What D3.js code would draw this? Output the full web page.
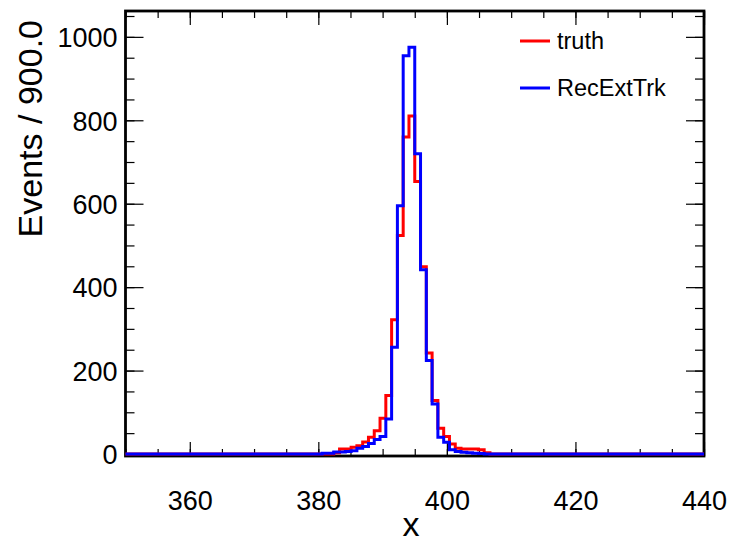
<!DOCTYPE html>
<html>
<head>
<meta charset="utf-8">
<script src="https://cdn.jsdelivr.net/npm/d3@7"></script>
<style>
  html, body { margin: 0; padding: 0; background: #fff; }
  svg { display: block; }
  text { font-family: "Liberation Sans", Arial, Helvetica, sans-serif; fill: #000; }
</style>
</head>
<body>
<svg id="chart" width="735" height="545"></svg>
<script>
// ---- data ----
const xMin = 350, xMax = 440, nBins = 100;   // bin width 0.9
const xTickLabels = [360, 380, 400, 420, 440];
const yTickLabels = [0, 200, 400, 600, 800, 1000];
const seriesNames = ["truth", "RecExtTrk"];
// bin contents (100 bins, index 0 = [350, 350.9))
const truth = [
  0,0,0,0,0,0,0,0,0,0,
  0,0,0,0,0,0,0,0,0,0,
  0,0,0,0,0,0,0,0,0,0,
  0,0,0,0,0,0,3,12,12,16,
  20,29,40,56,86,140,322,524,760,810,
  653,449,242,128,62,42,24,14,12,12,
  12,10,3,0,0,0,0,0,0,0,
  0,0,0,0,0,0,0,0,0,0,
  0,0,0,0,0,0,0,0,0,0,
  0,0,0,0,0,0,0,0,0,0
];
const recExtTrk = [
  0,0,0,0,0,0,0,0,0,0,
  0,0,0,0,0,0,0,0,0,0,
  0,0,0,0,0,0,0,0,0,0,
  0,0,0,0,2,2,5,5,6,8,
  14,18,25,35,42,84,256,595,955,975,
  720,442,224,120,40,28,10,6,4,3,
  2,1,0,0,0,0,0,0,0,0,
  0,0,0,0,0,0,0,0,0,0,
  0,0,0,0,0,0,0,0,0,0,
  0,0,0,0,0,0,0,0,0,0
];
const colors = ["#ff0000", "#0000ff"];

// ---- layout ----
const L = 125.5, R = 704, T = 11, B = 456;
const svg = d3.select("#chart");
const x = d3.scaleLinear().domain([xMin, xMax]).range([L, R]);
const y = d3.scaleLinear().domain([0, 1062]).range([454, T]);
const binW = (xMax - xMin) / nBins;

// axes (ROOT style: inward ticks on all sides)
const xMinor = d3.range(xMin, xMax + 0.01, 5);
const yMinor = d3.range(0, 1062, 50);
function styleAxis(g) {
  g.select(".domain").remove();
  g.selectAll("line").attr("stroke", "#000").attr("stroke-width", 1.2);
}
svg.append("g").attr("transform", `translate(0,${B})`)
  .call(d3.axisBottom(x).tickValues(xMinor).tickSize(-7).tickFormat(""))
  .call(styleAxis);
svg.append("g").attr("transform", `translate(0,${B})`)
  .call(d3.axisBottom(x).tickValues(xTickLabels).tickSize(-14).tickFormat(d3.format("d")))
  .call(styleAxis)
  .call(g => g.selectAll("text").attr("font-size", 27).attr("dy", null).attr("y", 54));
svg.append("g").attr("transform", `translate(0,${T})`)
  .call(d3.axisTop(x).tickValues(xMinor).tickSize(-7).tickFormat(""))
  .call(styleAxis);
svg.append("g").attr("transform", `translate(0,${T})`)
  .call(d3.axisTop(x).tickValues(xTickLabels).tickSize(-14).tickFormat(""))
  .call(styleAxis);
svg.append("g").attr("transform", `translate(${L},0)`)
  .call(d3.axisLeft(y).tickValues(yMinor).tickSize(-9).tickFormat(""))
  .call(styleAxis);
svg.append("g").attr("transform", `translate(${L},0)`)
  .call(d3.axisLeft(y).tickValues(yTickLabels).tickSize(-18).tickFormat(d3.format("d")))
  .call(styleAxis)
  .call(g => g.selectAll("text").attr("font-size", 27).attr("x", -8).attr("dy", "0.36em"));
svg.append("g").attr("transform", `translate(${R},0)`)
  .call(d3.axisRight(y).tickValues(yMinor).tickSize(-9).tickFormat(""))
  .call(styleAxis);
svg.append("g").attr("transform", `translate(${R},0)`)
  .call(d3.axisRight(y).tickValues(yTickLabels).tickSize(-18).tickFormat(""))
  .call(styleAxis);

// frame
svg.append("rect").attr("x", L).attr("y", T).attr("width", R - L).attr("height", B - T)
  .attr("fill", "none").attr("stroke", "#000").attr("stroke-width", 2.8);

// histograms as step lines (drawn on top of the frame)
function stepPoints(vals) {
  const pts = vals.map((v, i) => [xMin + i * binW, v]);
  pts.push([xMax, vals[vals.length - 1]]);
  return pts;
}
const line = d3.line().x(d => x(d[0])).y(d => y(d[1])).curve(d3.curveStepAfter);
const gH = svg.append("g");
[truth, recExtTrk].forEach((vals, i) => {
  gH.append("path").attr("d", line(stepPoints(vals)))
    .attr("fill", "none").attr("stroke", colors[i]).attr("stroke-width", 3)
    .attr("stroke-linejoin", "miter");
});

// titles
svg.append("text").attr("transform", "translate(42,20) rotate(-90)")
  .attr("text-anchor", "end").attr("font-size", 34).text("Events / 900.0");
svg.append("text").attr("x", 411).attr("y", 536).attr("text-anchor", "middle")
  .attr("font-size", 34).text("x");

// legend
const legY = [41, 88];
seriesNames.forEach((name, i) => {
  svg.append("line").attr("x1", 520).attr("x2", 550).attr("y1", legY[i]).attr("y2", legY[i])
    .attr("stroke", colors[i]).attr("stroke-width", 3);
  svg.append("text").attr("x", 557).attr("y", legY[i]).attr("dy", "0.36em")
    .attr("font-size", 23.5).text(name);
});
</script>
</body>
</html>
